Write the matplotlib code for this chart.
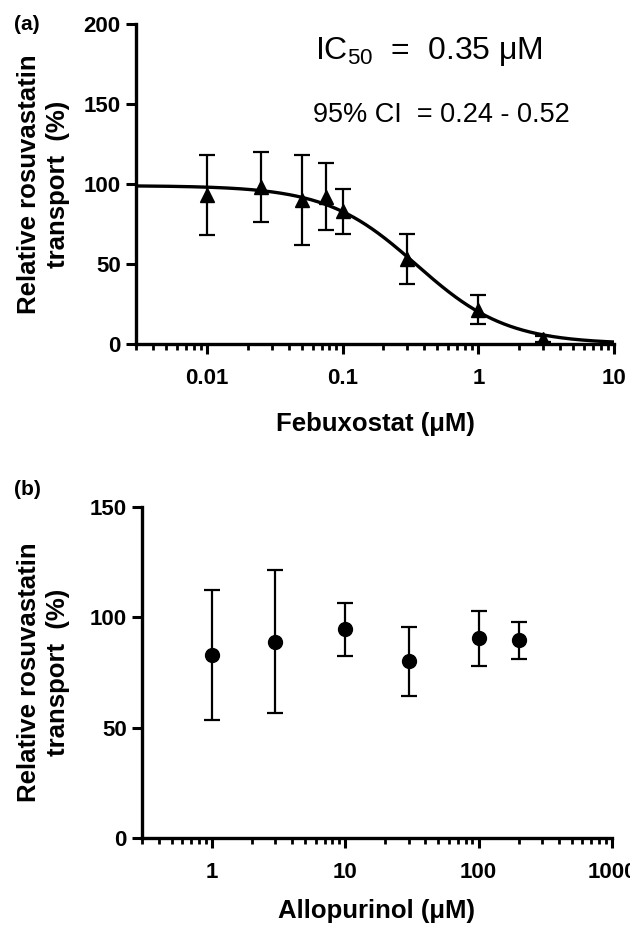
import numpy as np
import matplotlib
matplotlib.use("Agg")
import matplotlib.pyplot as plt
from matplotlib.ticker import FixedLocator, FixedFormatter, LogLocator, NullFormatter

plt.rcParams['font.family'] = ['Liberation Sans', 'DejaVu Sans']
plt.rcParams['mathtext.fontset'] = 'custom'
plt.rcParams['mathtext.rm'] = 'Liberation Sans'

# (a) febuxostat
feb_conc = [0.01, 0.025, 0.05, 0.075, 0.1, 0.3, 1, 3]
feb_mean = [93, 98, 90, 92, 83, 53, 21.5, 3]
feb_sd = [25, 22, 28, 21, 14, 15.5, 9, 2]
# fitted curve parameters
fit_top = 99.0
fit_bottom = 0.0
fit_ic50 = 0.35
fit_hill = 1.3

# (b) allopurinol
allo_conc = [1, 3, 10, 30, 100, 200]
allo_mean = [83, 89, 94.5, 80, 90.5, 89.5]
allo_sd = [29.5, 32.5, 12, 15.5, 12.4, 8.2]

ylab = "Relative rosuvastatin\ntransport  (%)"

fig = plt.figure(figsize=(6.3, 9.25), dpi=100)
ax1 = fig.add_axes([0.2159, 0.6281, 0.7587, 0.3459])
ax2 = fig.add_axes([0.2254, 0.0941, 0.7460, 0.3578])


def style(ax):
    for s in ['top', 'right']:
        ax.spines[s].set_visible(False)
    for s in ['left', 'bottom']:
        ax.spines[s].set_linewidth(2.4)
    ax.tick_params(which='major', length=7, width=2.2, direction='out',
                   labelsize=16)
    ax.tick_params(axis='y', pad=4)
    ax.tick_params(axis='x', pad=10)
    ax.tick_params(which='minor', length=4, width=2.0, direction='out')
    for lab in ax.get_xticklabels() + ax.get_yticklabels():
        lab.set_fontweight('bold')


# panel a
xs = np.logspace(np.log10(0.003), 1, 400)
ys = fit_bottom + (fit_top - fit_bottom) / (1 + (xs / fit_ic50) ** fit_hill)
ax1.plot(xs, ys, color='black', lw=2.4, zorder=2)
ax1.errorbar(feb_conc, feb_mean, yerr=feb_sd, fmt='^', color='black',
             ms=9.5, elinewidth=1.6, capsize=6, capthick=1.6, zorder=3)
ax1.set_xscale('log')
ax1.set_xlim(0.003, 10)
ax1.set_ylim(0, 200)
ax1.set_yticks([0, 50, 100, 150, 200])
ax1.xaxis.set_major_locator(FixedLocator([0.01, 0.1, 1, 10]))
ax1.xaxis.set_major_formatter(FixedFormatter(['0.01', '0.1', '1', '10']))
ax1.xaxis.set_minor_locator(LogLocator(base=10, subs=np.arange(2, 10), numticks=20))
ax1.xaxis.set_minor_formatter(NullFormatter())
style(ax1)
ax1.set_xlabel("Febuxostat (μM)", fontsize=18.5, fontweight='bold', labelpad=17)
ax1.set_ylabel(ylab, fontsize=18.5, fontweight='bold', linespacing=1.25)
ax1.yaxis.set_label_coords(-0.138, 0.5)
ax1.text(0.375, 0.891, r"IC$_{\mathrm{50}}$  =  0.35 μM", transform=ax1.transAxes,
         fontsize=23, va='baseline', ha='left')
ax1.text(0.371, 0.694, "95% CI  = 0.24 - 0.52", transform=ax1.transAxes,
         fontsize=19.5, va='baseline', ha='left')
fig.text(0.022, 0.973, "(a)", fontsize=15, fontweight='bold', va='center')

# panel b
ax2.errorbar(allo_conc, allo_mean, yerr=allo_sd, fmt='o', color='black',
             ms=10, elinewidth=1.6, capsize=6, capthick=1.6, zorder=3)
ax2.set_xscale('log')
ax2.set_xlim(0.3, 1000)
ax2.set_ylim(0, 150)
ax2.set_yticks([0, 50, 100, 150])
ax2.xaxis.set_major_locator(FixedLocator([1, 10, 100, 1000]))
ax2.xaxis.set_major_formatter(FixedFormatter(['1', '10', '100', '1000']))
ax2.xaxis.set_minor_locator(LogLocator(base=10, subs=np.arange(2, 10), numticks=20))
ax2.xaxis.set_minor_formatter(NullFormatter())
style(ax2)
ax2.set_xlabel("Allopurinol (μM)", fontsize=18.5, fontweight='bold', labelpad=12)
ax2.set_ylabel(ylab, fontsize=18.5, fontweight='bold', linespacing=1.25)
ax2.yaxis.set_label_coords(-0.153, 0.5)
fig.text(0.022, 0.471, "(b)", fontsize=15, fontweight='bold', va='center')

fig.savefig("out.png", dpi=100)
